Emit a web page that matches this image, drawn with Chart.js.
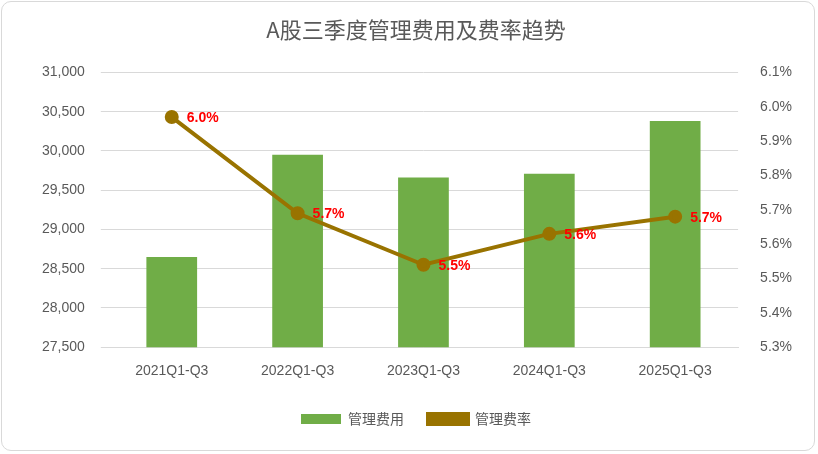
<!DOCTYPE html>
<html><head><meta charset="utf-8">
<script src="https://cdn.jsdelivr.net/npm/chart.js@4"></script>
<style>
html,body{margin:0;padding:0;background:#fff;}
#wrap{position:absolute;left:1px;top:1px;width:814px;height:450px;border:1px solid #d9d9d9;border-radius:10px;box-sizing:border-box;}
canvas{display:block;}
</style></head><body>
<div id="wrap"><canvas id="c"></canvas></div>
<script>
const categories=["2021Q1-Q3","2022Q1-Q3","2023Q1-Q3","2024Q1-Q3","2025Q1-Q3"];
const feeValues=[28650,29950,29660,29710,30380];
const rateValues=[5.97,5.69,5.54,5.63,5.68];
const rateLabels=["6.0%","5.7%","5.5%","5.6%","5.7%"];
const FONT='"Noto Sans CJK SC","Microsoft YaHei",sans-serif';
const labelPlugin={id:'lbl',afterDatasetsDraw(chart){
  const ctx=chart.ctx;const meta=chart.getDatasetMeta(1);
  ctx.save();ctx.fillStyle='#FF0000';ctx.font='bold 14px "Liberation Sans",Arial,sans-serif';
  ctx.textBaseline='middle';
  meta.data.forEach((p,i)=>{ctx.fillText(rateLabels[i],p.x+15,p.y+1);});
  ctx.restore();}};
new Chart(document.getElementById('c'),{
  data:{labels:categories,datasets:[
    {type:'bar',label:'管理费用',data:feeValues,backgroundColor:'#70AD47',yAxisID:'y',barPercentage:0.62,categoryPercentage:0.65,order:2},
    {type:'line',label:'管理费率',data:rateValues,borderColor:'#997300',backgroundColor:'#997300',borderWidth:4,pointRadius:5,pointBackgroundColor:'#997300',pointBorderColor:'#997300',yAxisID:'y1',order:1,tension:0}
  ]},
  options:{responsive:true,maintainAspectRatio:false,animation:false,
    layout:{padding:{left:24,right:8,top:6,bottom:14}},
    plugins:{
      title:{display:true,text:'A股三季度管理费用及费率趋势',color:'#595959',font:{family:FONT,size:22,weight:'normal'},padding:{top:8,bottom:30}},
      legend:{position:'bottom',labels:{color:'#595959',font:{family:FONT,size:14},boxWidth:40,boxHeight:10,padding:24,
        sort:(a,b)=>a.datasetIndex-b.datasetIndex}},
      tooltip:{enabled:false}},
    scales:{
      x:{grid:{display:false},border:{color:'#d9d9d9'},ticks:{color:'#595959',padding:8,font:{family:'"Liberation Sans",Arial',size:14}}},
      y:{position:'left',min:27500,max:31000,ticks:{stepSize:500,color:'#595959',padding:16,font:{family:'"Liberation Sans",Arial',size:14},callback:v=>v.toLocaleString('en-US')},grid:{color:'#d9d9d9'},border:{display:false}},
      y1:{position:'right',min:5.3,max:6.1,ticks:{stepSize:0.1,color:'#595959',padding:14,font:{family:'"Liberation Sans",Arial',size:14},callback:v=>v.toFixed(1)+'%'},grid:{display:false},border:{display:false}}
    }},
  plugins:[labelPlugin]
});
</script></body></html>
